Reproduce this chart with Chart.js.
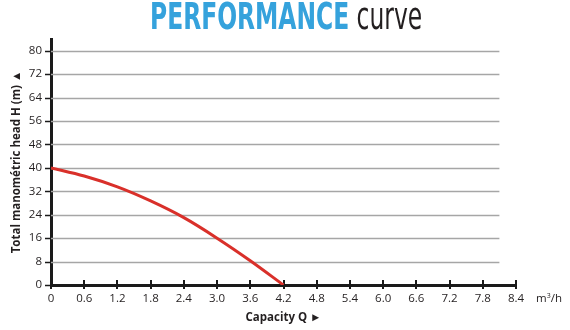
<!DOCTYPE html>
<html>
<head>
<meta charset="utf-8">
<script src="https://cdn.jsdelivr.net/npm/chart.js@4.4.1/dist/chart.umd.min.js"></script>
<style>
  html, body { margin: 0; padding: 0; background: #fff; }
  #wrap { position: relative; width: 570px; height: 330px; overflow: hidden; }
  #chart { position: absolute; left: 0; top: 0; width: 570px; height: 330px; }
  #title {
    position: absolute; left: 150px; top: -3px; transform-origin: 0 0;
    font-family: "Liberation Sans Narrow", "DejaVu Sans Condensed", "Liberation Sans", sans-serif;
    font-stretch: condensed; font-size: 37px; line-height: 40px; white-space: nowrap;
  }
  #title .strong { color: #35a2dc; font-weight: bold; }
  #title .light { color: #231f20; font-weight: normal; }
  #unit {
    position: absolute; left: 536px; top: 290px;
    font-family: "Open Sans", "Noto Sans", sans-serif; font-size: 11.5px; color: #231f20;
  }
  #unit sup { font-size: 7px; vertical-align: 4px; }
</style>
</head>
<body>
<div id="wrap">
  <canvas id="chart" width="570" height="330"></canvas>
  <div id="title"><span class="strong">PERFORMANCE</span> <span class="light">curve</span></div>
  <div id="unit">m<sup>3</sup>/h</div>
</div>
<script>
// pump curve: capacity Q (m3/h) against total head H (m)
const capacity = [0, 0.6, 1.2, 1.8, 2.4, 3.0, 3.6, 4.2];
const head = [40, 37.2, 33.5, 28.7, 23.0, 16.0, 8.3, 0];

const xTickValues = [0, 0.6, 1.2, 1.8, 2.4, 3.0, 3.6, 4.2, 4.8, 5.4, 6.0, 6.6, 7.2, 7.8, 8.4];
const yTickValues = [0, 8, 16, 24, 32, 40, 48, 56, 64, 72, 80];

const xMax = 8.4;
const yMax = 84;
const gridEnd = 8.1;

const axisColor = '#1a1a1a';
const textColor = '#231f20';
const tickFont = { family: '"Open Sans", "Noto Sans", sans-serif', size: 11.5 };
const titleFont = { family: '"Open Sans", "Noto Sans", sans-serif', size: 11.5, weight: 'bold' };

// squeeze the heading into a narrow block like a condensed face would
const heading = document.getElementById('title');
heading.style.transform = 'scaleX(' + (272 / heading.offsetWidth) + ')';

// horizontal grid lines stop a bit short of the end of the x axis,
// and the tick marks on both axes are drawn by hand
const axisDecor = {
    id: 'axisDecor',
    beforeDatasetsDraw(chart) {
        const { ctx, scales: { x, y } } = chart;
        ctx.save();
        ctx.strokeStyle = '#a6a6a6';
        ctx.lineWidth = 1.3;
        yTickValues.forEach(v => {
            if (v === 0) return;
            const py = Math.round(y.getPixelForValue(v)) + 0.5;
            ctx.beginPath();
            ctx.moveTo(x.getPixelForValue(0), py);
            ctx.lineTo(x.getPixelForValue(gridEnd), py);
            ctx.stroke();
        });
        ctx.strokeStyle = axisColor;
        ctx.lineWidth = 1.5;
        const left = x.getPixelForValue(0);
        yTickValues.forEach(v => {
            const py = Math.round(y.getPixelForValue(v)) + 0.5;
            ctx.beginPath();
            ctx.moveTo(left - 6, py);
            ctx.lineTo(left, py);
            ctx.stroke();
        });
        ctx.lineWidth = 2;
        const base = y.getPixelForValue(0);
        xTickValues.forEach(v => {
            const px = Math.round(x.getPixelForValue(v));
            ctx.beginPath();
            ctx.moveTo(px, base - 5);
            ctx.lineTo(px, base + 4);
            ctx.stroke();
        });
        ctx.restore();
    }
};

new Chart(document.getElementById('chart'), {
    type: 'scatter',
    data: {
        datasets: [{
            data: capacity.map((q, i) => ({ x: q, y: head[i] })),
            showLine: true,
            borderColor: '#d9302a',
            borderWidth: 3,
            pointRadius: 0,
            cubicInterpolationMode: 'monotone'
        }]
    },
    options: {
        responsive: true,
        maintainAspectRatio: false,
        animation: false,
        layout: { padding: { top: 39, right: 54, left: 0, bottom: 0 } },
        plugins: {
            legend: { display: false },
            tooltip: { enabled: false }
        },
        scales: {
            x: {
                type: 'linear',
                min: 0,
                max: xMax,
                afterFit: scale => { scale.height = 45; },
                afterBuildTicks: scale => { scale.ticks = xTickValues.map(v => ({ value: v })); },
                grid: { display: false, drawTicks: false },
                border: { display: true, color: axisColor, width: 3 },
                ticks: {
                    padding: 7,
                    color: textColor,
                    font: tickFont,
                    maxRotation: 0,
                    autoSkip: false,
                    callback: v => (v === 0 ? '0' : v.toFixed(1))
                },
                title: {
                    display: true,
                    text: 'Capacity Q \u25BA',
                    color: textColor,
                    font: titleFont,
                    padding: { top: 4, bottom: 5 }
                }
            },
            y: {
                type: 'linear',
                min: 0,
                max: yMax,
                afterFit: scale => { scale.width = 51; },
                afterBuildTicks: scale => { scale.ticks = yTickValues.map(v => ({ value: v })); },
                grid: { display: false, drawTicks: false },
                border: { display: true, color: axisColor, width: 3 },
                ticks: {
                    padding: 9,
                    color: textColor,
                    font: tickFont,
                    autoSkip: false
                },
                title: {
                    display: true,
                    text: 'Total manom\u00e9tric head H (m) \u25B2',
                    color: textColor,
                    font: titleFont,
                    padding: { top: 10, bottom: 0 }
                }
            }
        }
    },
    plugins: [axisDecor]
});
</script>
</body>
</html>
